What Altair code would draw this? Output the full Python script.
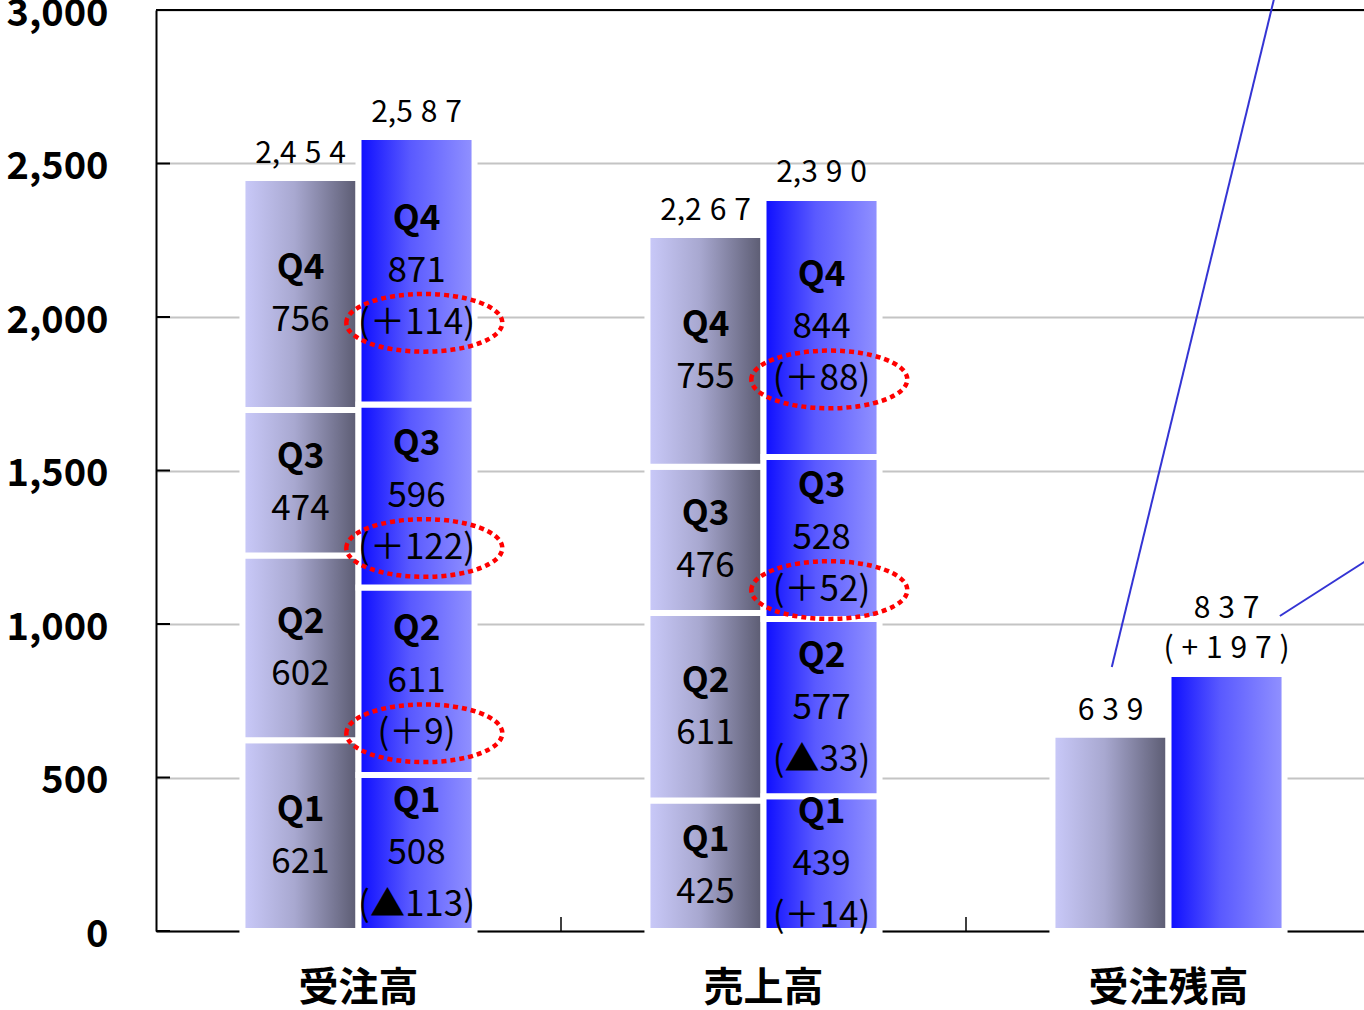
import altair as alt
import pandas as pd

# ---- data -------------------------------------------------------------
groups = ["受注高", "売上高", "受注残高"]
series = ["前期", "当期"]
quarters = ["Q1", "Q2", "Q3", "Q4"]

orders_prev = [621, 602, 474, 756]
orders_cur = [508, 611, 596, 871]
orders_diff = ["(▲113)", "(＋9)", "(＋122)", "(＋114)"]
orders_circled = [False, True, True, True]

sales_prev = [425, 611, 476, 755]
sales_cur = [439, 577, 528, 844]
sales_diff = ["(＋14)", "(▲33)", "(＋52)", "(＋88)"]
sales_circled = [False, False, True, True]

backlog_prev = 639
backlog_cur = 837
backlog_diff = "(+197)"

total_labels = {
    ("受注高", "前期"): "2,454",
    ("受注高", "当期"): "2,587",
    ("売上高", "前期"): "2,267",
    ("売上高", "当期"): "2,390",
    ("受注残高", "前期"): "639",
    ("受注残高", "当期"): "837",
}

y_ticks = [0, 500, 1000, 1500, 2000, 2500, 3000]

# leader lines to a call-out outside the plotted range (x in category units)
leader_x = [2.36, 2.76, 2.775, 3.0]
leader_y = [860, 3033, 1026, 1216]
leader_id = ["a", "a", "b", "b"]

# ---- tables -----------------------------------------------------------
GAP = "\u2009\u200a"


def spaced(s, all_chars=False):
    out = s[0]
    for a, b in zip(s, s[1:]):
        if all_chars or (a.isdigit() and b.isdigit()):
            out += GAP
        out += b
    return out


seg_rows = []


def add_stack(group, ser, values, diffs=None, circled=None):
    start = 0
    for i, v in enumerate(values):
        seg_rows.append(
            dict(
                group=group,
                series=ser,
                quarter=quarters[i],
                value=v,
                start=start,
                end=start + v,
                mid=start + v / 2,
                vtext=str(v),
                diff=diffs[i] if diffs else "",
                circled=bool(circled[i]) if circled else False,
            )
        )
        start += v


add_stack("受注高", "前期", orders_prev)
add_stack("受注高", "当期", orders_cur, orders_diff, orders_circled)
add_stack("売上高", "前期", sales_prev)
add_stack("売上高", "当期", sales_cur, sales_diff, sales_circled)
seg = pd.DataFrame(seg_rows)

backlog = pd.DataFrame(
    dict(group=["受注残高", "受注残高"], series=series,
         start=[0, 0], end=[backlog_prev, backlog_cur])
)
bars = pd.concat([seg[["group", "series", "start", "end"]], backlog], ignore_index=True)

tot_rows = []
for (g, s), lab in total_labels.items():
    tot_rows.append(dict(group=g, series=s, total=float(lab.replace(",", "")),
                         text=spaced(lab, g == "受注残高")))
totals = pd.DataFrame(tot_rows)
backlog_note = pd.DataFrame(dict(group=["受注残高"], series=["当期"],
                                 total=[float(backlog_cur)],
                                 text=[spaced(backlog_diff, True)]))

leaders = pd.DataFrame(dict(x=leader_x, y=leader_y, id=leader_id))
ticks = pd.DataFrame(dict(v=y_ticks))
seps = pd.DataFrame(dict(group=groups[1:]))

# ---- styling ----------------------------------------------------------
W, H = 1208, 921
FONT = "Noto Sans CJK JP"
LINE = 52

x_enc = alt.X(
    "group:N",
    sort=groups,
    scale=alt.Scale(domain=groups, range=[0, 1215], paddingInner=0, paddingOuter=0),
    axis=alt.Axis(
        title=None, ticks=False, labelAngle=0, labelFont=FONT, labelFontSize=40,
        labelFontWeight="bold", labelColor="black", labelPadding=37,
        domainColor="black", domainWidth=2, grid=False,
    ),
)
xo_enc = alt.XOffset(
    "series:N", sort=series,
    scale=alt.Scale(domain=series, paddingInner=0, paddingOuter=0.745),
)
y_scale = alt.Scale(domain=[0, 3000], nice=False, zero=True)

grad_prev = alt.Gradient(
    gradient="linear", x1=0, x2=1, y1=0, y2=0,
    stops=[alt.GradientStop(color="#cacafa", offset=0),
           alt.GradientStop(color="#a8a8d0", offset=0.45),
           alt.GradientStop(color="#5a5a70", offset=1)],
)
grad_cur = alt.Gradient(
    gradient="linear", x1=0, x2=1, y1=0, y2=0,
    stops=[alt.GradientStop(color="#0c0cff", offset=0),
           alt.GradientStop(color="#5a5aff", offset=0.45),
           alt.GradientStop(color="#9292ff", offset=1)],
)

base_bars = alt.Chart(bars).encode(
    x=x_enc,
    xOffset=xo_enc,
    y=alt.Y(
        "start:Q", scale=y_scale,
        axis=alt.Axis(
            title=None, values=y_ticks, format=",d", ticks=False,
            labelFont=FONT, labelFontSize=38, labelFontWeight="bold",
            labelColor="black", labelPadding=48, labelOffset=4,
            domainColor="black", domainWidth=2,
            grid=True, gridColor="#c4c4c4", gridWidth=2,
        ),
    ),
    y2="end:Q",
)
bars_prev = base_bars.transform_filter(alt.datum.series == "前期").mark_bar(
    color=grad_prev, stroke="white", strokeWidth=6
)
bars_cur = base_bars.transform_filter(alt.datum.series == "当期").mark_bar(
    color=grad_cur, stroke="white", strokeWidth=6
)

seg_base = alt.Chart(seg).encode(x=x_enc, xOffset=xo_enc, y=alt.Y("mid:Q", scale=y_scale))


def seg_text(ser, field, dy, weight):
    return seg_base.transform_filter(alt.datum.series == ser).mark_text(
        font=FONT, fontSize=35, fontWeight=weight, color="black",
        baseline="middle", align="center", dy=dy,
    ).encode(text=f"{field}:N")


txt_layers = [
    seg_text("前期", "quarter", -LINE / 2, "bold"),
    seg_text("前期", "vtext", LINE / 2, "normal"),
    seg_text("当期", "quarter", -LINE, "bold"),
    seg_text("当期", "vtext", 0, "normal"),
    seg_text("当期", "diff", LINE, "normal"),
]


def ellipse_path(cx, cy, rx, ry):
    k = 0.5523
    return (
        f"M {cx - rx} {cy} "
        f"C {cx - rx} {cy - ry * k} {cx - rx * k} {cy - ry} {cx} {cy - ry} "
        f"C {cx + rx * k} {cy - ry} {cx + rx} {cy - ry * k} {cx + rx} {cy} "
        f"C {cx + rx} {cy + ry * k} {cx + rx * k} {cy + ry} {cx} {cy + ry} "
        f"C {cx - rx * k} {cy + ry} {cx - rx} {cy + ry * k} {cx - rx} {cy} Z"
    )


ELL_W = 156
rings = seg_base.transform_filter(alt.datum.circled).mark_point(
    shape=ellipse_path(0.1, LINE / (ELL_W / 2), 1, 0.37),
    size=ELL_W ** 2, filled=False, stroke="#ff0000", strokeWidth=4.5,
    strokeDash=[5, 4], opacity=1,
)

tot_style = dict(font=FONT, fontSize=30, fontWeight="normal", color="black",
                 baseline="bottom", align="center")
tot_enc = dict(x=x_enc, xOffset=xo_enc, y=alt.Y("total:Q", scale=y_scale), text="text:N")
tot_text = alt.Chart(totals).transform_filter(
    (alt.datum.group != "受注残高") | (alt.datum.series != "当期")
).mark_text(dy=-9, **tot_style).encode(**tot_enc)
tot_text_two = alt.Chart(totals).transform_filter(
    (alt.datum.group == "受注残高") & (alt.datum.series == "当期")
).mark_text(dy=-50, **tot_style).encode(**tot_enc)
note_text = alt.Chart(backlog_note).mark_text(dy=-10, **tot_style).encode(**tot_enc)

inner_ticks = alt.Chart(ticks).mark_rule(color="black", strokeWidth=2).encode(
    y=alt.Y("v:Q", scale=y_scale), x=alt.value(0), x2=alt.value(14)
)
group_ticks = alt.Chart(seps).mark_rule(color="black", strokeWidth=1.5).encode(
    x=alt.X("group:N", sort=groups, bandPosition=0,
            scale=alt.Scale(domain=groups, range=[0, 1215], paddingInner=0, paddingOuter=0)),
    y=alt.value(H), y2=alt.value(H - 14),
)
top_border = alt.Chart(ticks).transform_filter(alt.datum.v == 3000).mark_rule(
    color="black", strokeWidth=2
).encode(y=alt.Y("v:Q", scale=y_scale), x=alt.value(0), x2=alt.value(W))

main = alt.layer(
    bars_prev, bars_cur, *txt_layers, rings, tot_text, tot_text_two, note_text,
    inner_ticks, group_ticks, top_border
)

leader_lines = alt.Chart(leaders).mark_line(color="#3434d4", strokeWidth=2).encode(
    x=alt.X("x:Q", scale=alt.Scale(domain=[0, 3], range=[0, 1215], nice=False, zero=False), axis=None),
    y=alt.Y("y:Q", scale=y_scale),
    detail="id:N",
)

chart = (
    alt.layer(main, leader_lines)
    .resolve_scale(x="independent")
    .properties(
        width=W, height=H,
        autosize=alt.AutoSizeParams(type="none"),
        padding={"left": 156, "top": 10, "right": 0, "bottom": 79},
    )
    .configure_view(stroke=None)
    .configure(background="white")
)

chart.save("out.html", embed_options={"renderer": "svg", "actions": False})
